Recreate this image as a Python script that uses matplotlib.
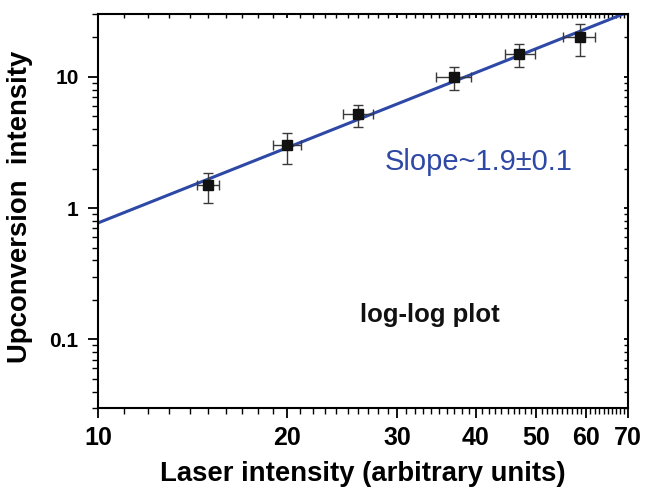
import numpy as np
import matplotlib
matplotlib.use("Agg")
from matplotlib import pyplot as plt
from matplotlib.ticker import FixedLocator, NullFormatter, LogLocator

plt.rcParams['font.family'] = ['Liberation Sans', 'DejaVu Sans']

# data
laser = [15.0, 20.0, 26.0, 37.0, 47.0, 58.6]
laser_lo = [14.4, 19.0, 24.6, 34.6, 44.5, 55.1]
laser_hi = [15.6, 21.1, 27.5, 39.4, 49.7, 62.1]
upconv = [1.5, 3.0, 5.2, 10.0, 15.0, 20.0]
upconv_lo = [1.09, 2.17, 4.15, 7.95, 11.9, 14.3]
upconv_hi = [1.86, 3.76, 6.1, 11.9, 17.8, 25.2]

# power-law fit
fit_amp = 0.77
fit_slope = 1.9
fit_x = [10, 75]

x = np.array(laser)
y = np.array(upconv)
xerr = [x - np.array(laser_lo), np.array(laser_hi) - x]
yerr = [y - np.array(upconv_lo), np.array(upconv_hi) - y]

fig = plt.figure(figsize=(6.46, 4.88), dpi=100)
ax = fig.add_axes([0.1517, 0.164, 0.8203, 0.807])

fx = np.array(fit_x, dtype=float)
ax.plot(fx, fit_amp * (fx / 10.0) ** fit_slope, color='#2e48a6', lw=2.2, zorder=2)

ax.errorbar(x, y, xerr=xerr, yerr=yerr, fmt='s', color='#111111', ms=6.5,
            ecolor='#3a3a3a', elinewidth=1.0, capsize=3.5, capthick=1.0, zorder=3)

ax.set_xscale('log')
ax.set_yscale('log')
ax.set_xlim(10, 70)
ax.set_ylim(0.03, 30)

major_x = [10, 20, 30, 40, 50, 60, 70]
ax.xaxis.set_major_locator(FixedLocator(major_x))
ax.xaxis.set_minor_locator(FixedLocator([v for v in range(11, 70) if v not in major_x]))
ax.set_xticklabels([str(v) for v in major_x])
ax.xaxis.set_minor_formatter(NullFormatter())

ax.yaxis.set_major_locator(FixedLocator([0.1, 1, 10]))
ax.set_yticklabels(['0.1', '1', '10'])
ax.yaxis.set_minor_locator(LogLocator(base=10, subs=np.arange(2, 10)))
ax.yaxis.set_minor_formatter(NullFormatter())

for s in ax.spines.values():
    s.set_linewidth(1.5)

ax.tick_params(axis='both', which='major', direction='out', length=7, width=1.3, pad=6)
ax.tick_params(axis='both', which='minor', direction='out', length=4, width=1.0)
ax.tick_params(axis='x', which='major', labelsize=18)
ax.tick_params(axis='y', which='major', labelsize=15, pad=7)
ax.tick_params(axis='both', which='both', top=True, right=True)
for lab in ax.get_xticklabels() + ax.get_yticklabels():
    lab.set_fontweight('bold')

# inward ticks on top and right
for t in ax.xaxis.get_major_ticks() + ax.xaxis.get_minor_ticks():
    t.tick2line.set_marker(matplotlib.lines.TICKDOWN)
    t.tick2line.set_markersize(3)
for t in ax.yaxis.get_major_ticks() + ax.yaxis.get_minor_ticks():
    t.tick2line.set_marker(matplotlib.lines.TICKLEFT)
    t.tick2line.set_markersize(3)

ax.set_xlabel('Laser intensity (arbitrary units)', fontsize=19.8, fontweight='bold', labelpad=8)
ax.set_ylabel('Upconversion  intensity', fontsize=19.8, fontweight='bold')
ax.yaxis.set_label_coords(-0.122, 0.51)

ax.text(0.5415, 0.624, 'Slope~1.9±0.1', transform=ax.transAxes, color='#2e48a6',
        fontsize=21, ha='left', va='center')
ax.text(0.626, 0.236, 'log-log plot', transform=ax.transAxes, color='#111111',
        fontsize=18.5, fontweight='bold', ha='center', va='center')

fig.savefig('out.png', dpi=100)
